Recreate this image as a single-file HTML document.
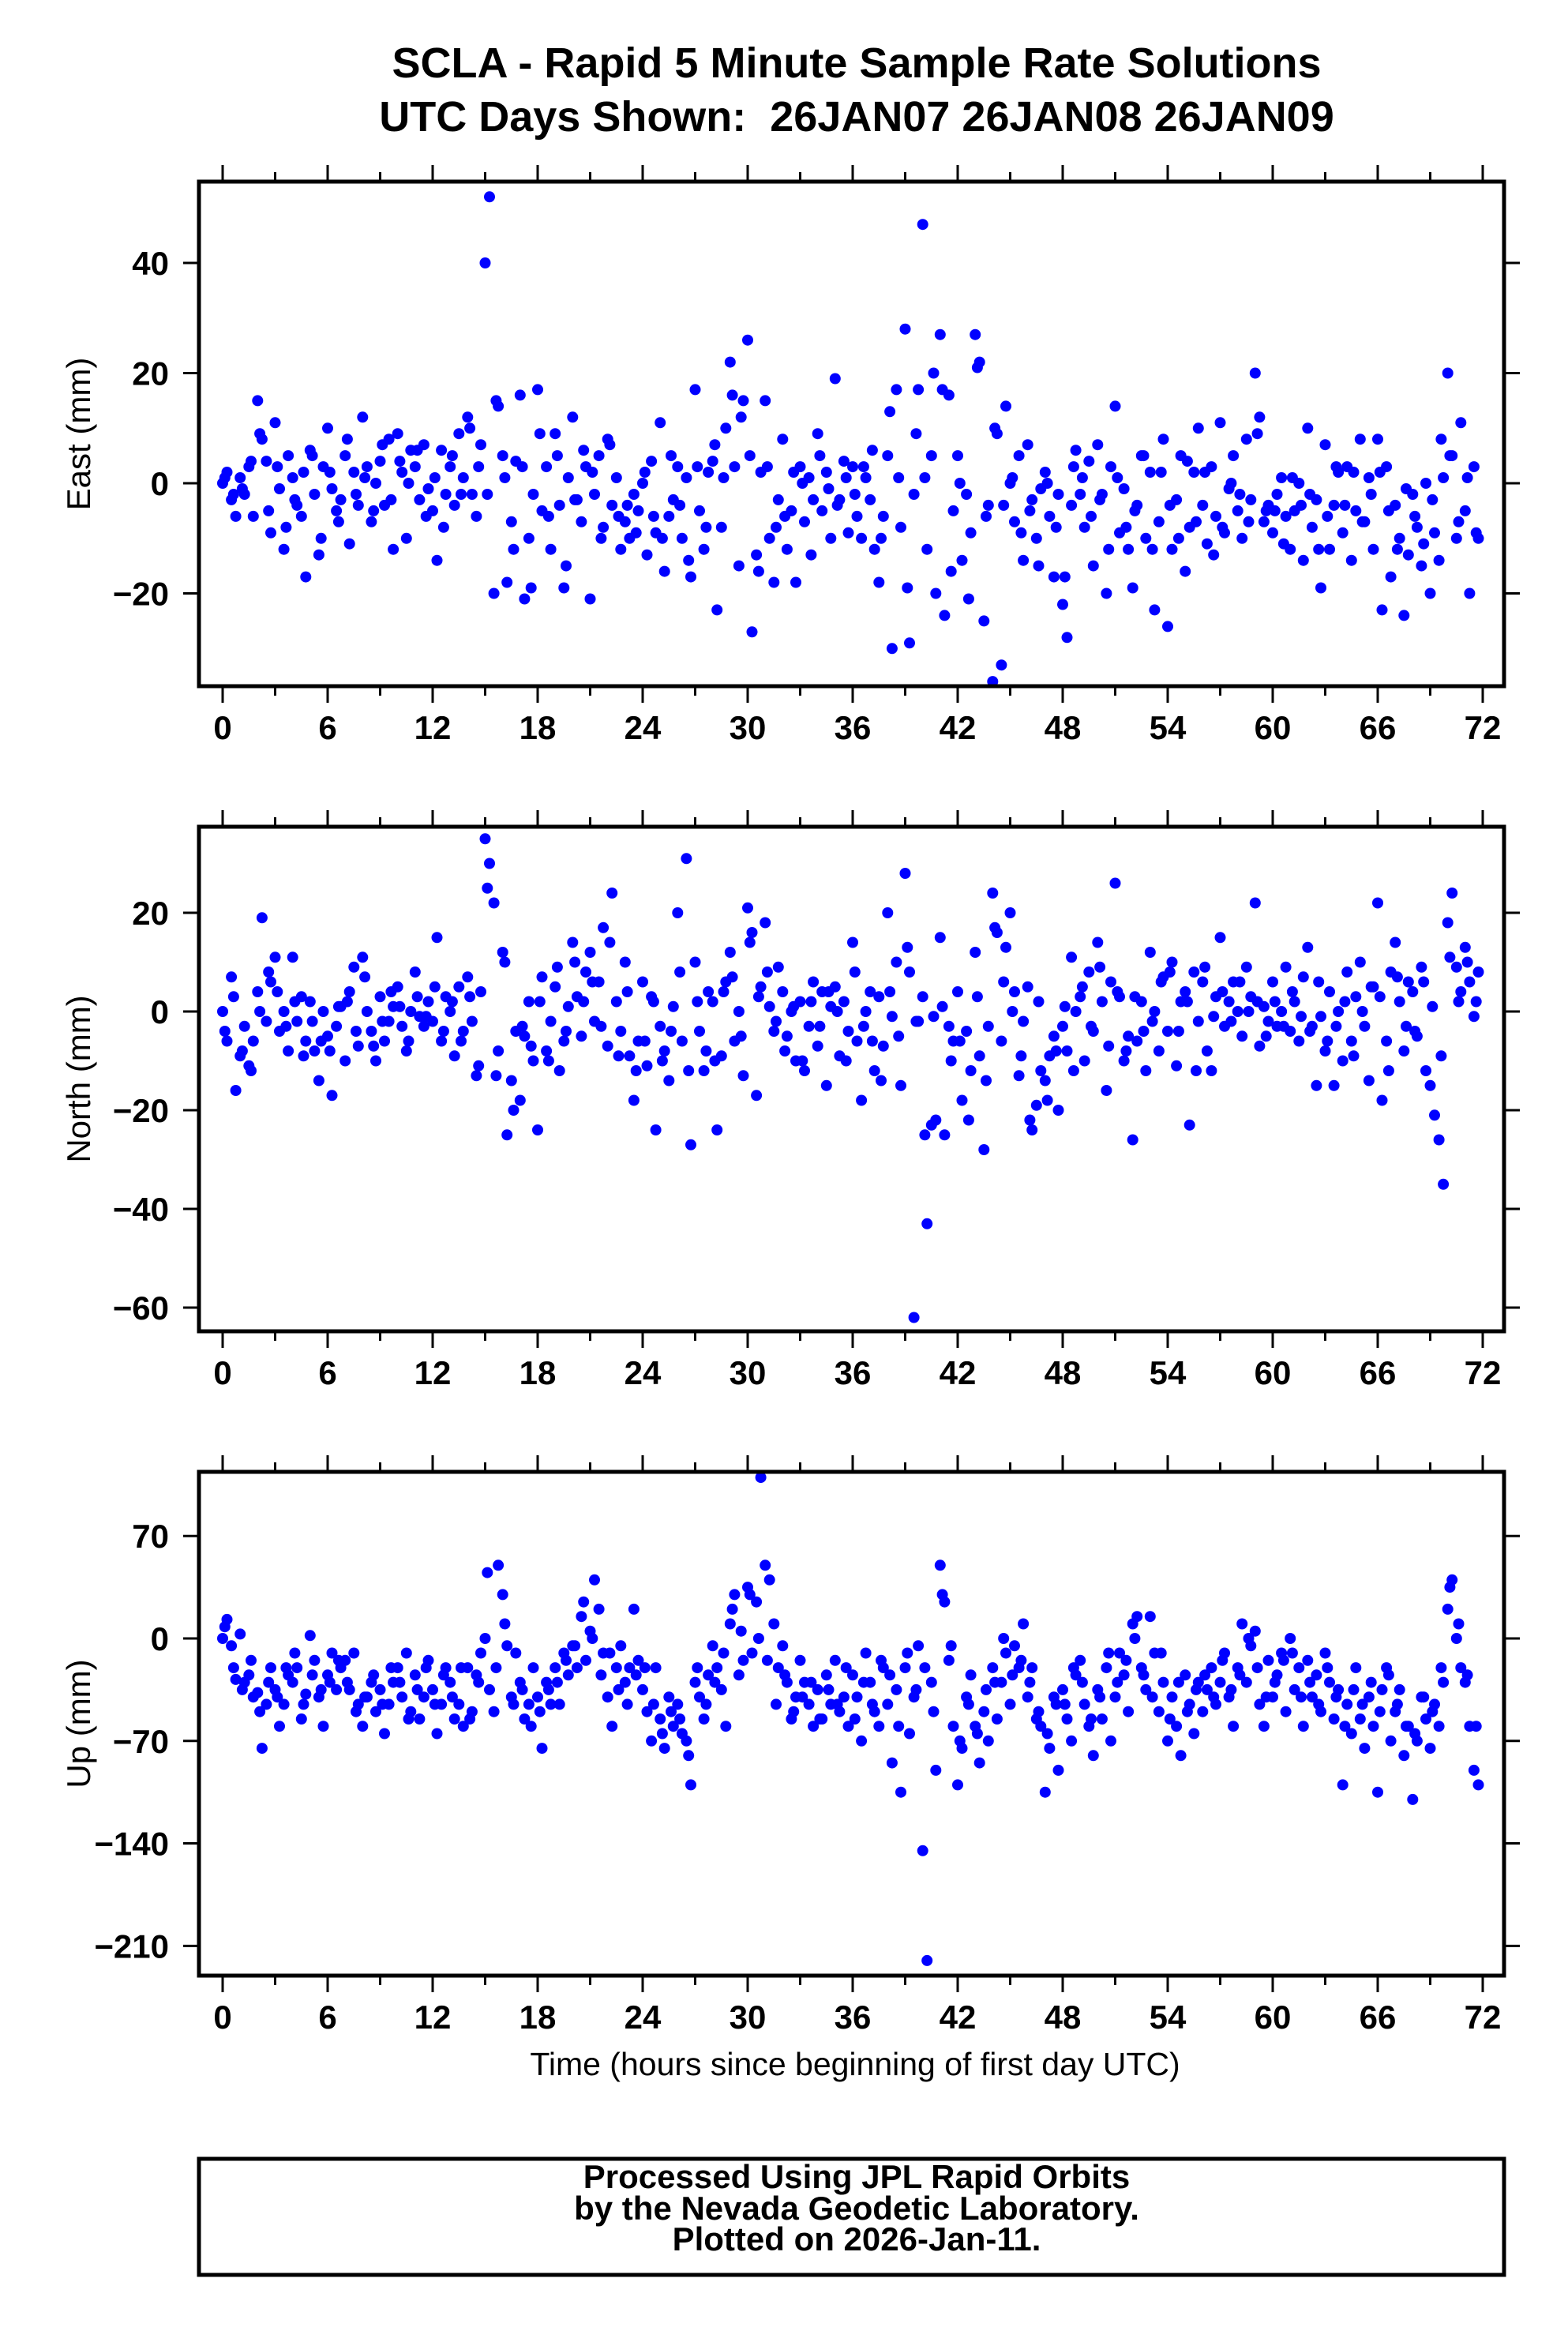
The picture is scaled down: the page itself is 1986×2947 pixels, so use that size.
<!DOCTYPE html>
<html><head><meta charset="utf-8">
<style>
html,body{margin:0;padding:0;background:#fff;}
svg{display:block;font-family:"Liberation Sans",Arial,sans-serif;}
</style></head>
<body>
<svg id="chart" width="1986" height="2947" viewBox="0 0 1986 2947" xmlns="http://www.w3.org/2000/svg">
<rect x="0" y="0" width="1986" height="2947" fill="#fff"/>
<text x="1085" y="98" text-anchor="middle" font-weight="bold" font-size="54">SCLA - Rapid 5 Minute Sample Rate Solutions</text>
<text x="1085" y="166" text-anchor="middle" font-weight="bold" font-size="54" xml:space="preserve">UTC Days Shown:  26JAN07 26JAN08 26JAN09</text>
<text x="1083" y="2628" text-anchor="middle" font-size="41">Time (hours since beginning of first day UTC)</text>
<rect x="252" y="2734" width="1653" height="147" fill="none" stroke="#000" stroke-width="5"/>
<text x="1085" y="2771" text-anchor="middle" font-weight="bold" font-size="42">Processed Using JPL Rapid Orbits</text>
<text x="1085" y="2811" text-anchor="middle" font-weight="bold" font-size="42">by the Nevada Geodetic Laboratory.</text>
<text x="1085" y="2850" text-anchor="middle" font-weight="bold" font-size="42">Plotted on 2026-Jan-11.</text>
</svg>
<script>
const xTickLabels = [0,6,12,18,24,30,36,42,48,54,60,66,72];
const samplesPerHour = 4;
const samplesPerHour2 = 2;
const eastTicks = [40,20,0,-20];
const northTicks = [20,0,-20,-40,-60];
const upTicks = [70,0,-70,-140,-210];
const eastValues = [0,2,-3,-6, 1,-2,3,-6, 15,8,4,-9, 11,-1,-12,5, 1,-4,-6,-17, 6,-2,-13,3, 10,-1,-5,-3, 5,-11,2,-4, 12,3,-7,0, 4,-4,8,-12, 9,2,-10,6, 3,-3,7,-1, -5,-14,6,-2, 3,-4,9,1, 12,-2,-6,7, 40,52,-20,14, 5,-18,-7,4, 16,-21,-10,-2, 17,-5,3,-12, 9,-4,-19,1, 12,-3,-7,3, -21,-2,5,-8, 8,-4,1,-12, -7,-10,-2,-5, 0,-13,4,-9, 11,-16,-6,-3, 3,-10,1,-17, 17,-5,-12,2, 4,-23,-8,10, 22,3,-15,15, 26,-27,-13,2, 15,-10,-18,-3, 8,-12,-5,-18, 3,-7,1,-3, 9,-5,2,-10, 19,-3,4,-9, 3,-6,-10,1, -3,-12,-18,-6, 5,-30,17,-8, 28,-29,-2,17, 47,-12,5,-20, 27,-24,16,-5, 5,-14,-2,-9, 27,22,-25,-4, -36,9,-33,14, 0,-7,5,-14, 7,-3,-10,-1, 2,-6,-17,-2, -22,-28,-4,6, -2,-8,4,-15, 7,-2,-20,3, 14,-9,-1,-12, -19,-4,5,-10, 2,-23,-7,8, -26,-12,-3,5, -16,-8,2,10, -4,-11,3,-6, 11,-9,-1,5, -5,-10,8,-3, 20,12,-7,-4, -9,-2,1,-6, -12,-5,0,-14, 10,-8,-3,-19, 7,-12,-4,2, -9,3,-14,-5, 8,-7,1,-12, 8,-23,3,-17, -4,-10,-24,-13, -2,-8,-15,0, -20,-9,-14,1, 20,5,-10,11, -5,-20,3,-10];
const eastValues2 = [1,-2, -1,4, 9,-5, 3,-8, -3,2, 5,-10, 2,-7, 8,-2, 1,-5, 7,-3, 4,0, 6,-6, 1,-8, 5,-2, 10,3, -2,15, 1,-12, 3,-19, 9,-6, 5,-15, -3,6, 2,-10, 7,-6, -4,-9, 2,-6, -10,5, -4,-14, 3,-8, 7,1, 16,12, 5,-16, 3,-8, -6,2, 0,-13, 5,-1, -4,1, -2,3, 6,-10, 13,1, -19,9, 1,20, 17,-16, 0,-21, 21,-6, 10,-4, 1,-9, -5,-15, 0,-8, -17,3, 1,-6, -3,-12, 1,-8, -5,5, -12,2, -4,-10, 4,-7, 2,-13, -8,0, -2,-7, 9,-5, -5,-11, 1,-4, -2,-12, -6,3, -4,2, -7,-2, 2,-5, -12,-1, -6,-11, -3,8, 5,-7, 1,-9];
const northValues = [0,-6,7,-16, -9,-3,-11,-6, 4,19,-2,6, 11,-4,0,-8, 11,-2,3,-6, 2,-8,-14,0, -5,-17,-3,1, -10,4,9,-7, 11,0,-4,-10, 3,-6,-2,1, 5,-3,-8,0, 8,-1,-3,2, -2,15,-6,3, 0,-9,5,-4, 7,-2,-13,4, 35,30,22,-8, 12,-25,-14,-4, -18,-5,2,-10, -24,7,-8,-2, 5,-12,-6,1, 14,3,-5,8, 12,-2,6,17, -7,24,2,-4, 10,-9,-18,-6, 6,-11,3,-24, -3,-8,-14,1, 20,-6,31,-27, 10,-4,-12,4, 2,-24,-9,6, 12,-6,0,-13, 21,16,-17,5, 18,1,-4,9, 4,-5,0,-10, 2,-12,-3,6, -7,4,-15,1, 5,-9,2,-4, 14,-6,-18,0, 4,-12,3,-7, 20,-1,10,-15, 28,8,-62,-2, 3,-43,-23,-22, 15,-25,-3,-6, 4,-18,-4,-12, 12,-9,-28,-3, 24,16,-6,13, 20,4,-13,-2, 5,-24,-19,-12, -14,-9,-5,-20, -3,-8,11,0, 3,-10,8,-4, 14,2,-16,6, 26,3,-10,-5, -26,-6,2,-12, 12,0,-8,7, -4,10,-11,2, 4,-23,8,-2, 6,-8,-12,3, 15,-3,2,6, 0,-5,9,3, 22,-7,1,-2, 6,-3,0,9, -4,2,-6,7, 13,-3,-15,-1, -8,4,-15,0, -10,8,-6,3, 10,-3,-14,5, 22,-18,-6,8, 14,2,-8,6, 4,-5,9,-12, -15,-21,-26,-35, 18,24,9,4, 13,6,-1,8];
const northValues2 = [-4,3, -8,-12, 0,8, 4,-3, 2,-9, -2,-6, -8,1, 2,-4, 7,-7, -2,4, 1,-6, 3,-1, 5,-4, 2,-6, 3,-11, 25,-13, 10,-20, -3,-7, 2,-10, 9,-4, 10,2, 6,-3, 14,-9, 4,-12, -6,2, -10,-4, 8,-12, 2,-8, -10,4, 7,-5, 14,3, 8,-2, -8,1, -10,2, -3,4, 0,-10, 8,-3, -6,-14, 4,-5, 13,-2, -25,-1, 1,-10, -6,-22, 3,-14, 17,6, 0,-9, -22,2, -18,-8, 1,-12, 5,-3, 9,-7, 4,-8, 3,-4, -2,6, 8,-4, 2,-12, 9,-1, 4,-2, 6,0, 2,-5, 2,-3, 4,-1, -4,6, -6,-3, 2,-9, 0,5, 3,-12, 7,-3, -4,6, 1,-9, 11,2, 10,2];
const upValues = [0,13,-5,-28, 3,-30,-25,-40, -37,-75,-45,-20, -35,-60,-45,-25, -30,-20,-55,-38, 2,-15,-40,-60, -25,-10,-35,-20, -15,-35,-10,-45, -60,-40,-30,-50, -35,-65,-45,-30, -20,-40,-10,-50, -25,-55,-40,-15, -35,-65,-45,-20, -30,-55,-45,-60, -20,-50,-25,-10, 0,-35,-50,50, 30,-5,-40,-10, -30,-55,-45,-20, -40,-75,-30,-45, -20,-45,-10,-25, -5,-20,15,-15, 5,40,20,-10, -40,-60,-20,-5, -30,-20,20,-15, -35,-50,-70,-20, -55,-75,-40,-60, -45,-65,-70,-100, -30,-40,-55,-25, -5,-20,-35,-60, 10,30,-25,-15, 35,-10,25,110, 50,40,10,-20, -5,-30,-55,-40, -15,-30,-45,-60, -35,-55,-25,-45, -15,-50,-40,-60, -25,-40,-70,-10, -30,-50,-60,-20, -45,-85,-35,-105, -20,-65,-40,-5, -145,-220,-30,-90, 50,25,-15,-60, -100,-75,-40,-25, -60,-85,-50,-70, -20,-55,-30,-10, -45,-5,-20,10, -40,-20,-55,-60, -105,-75,-40,-90, -35,-55,-70,-25, -15,-45,-60,-80, -35,-55,-20,-70, -40,-10,-25,-50, 10,15,-20,-35, 15,-10,-50,-30, -70,-40,-60,-80, -25,-45,-65,-30, -50,-35,-20,-45, -30,-10,-40,-60, -20,10,-30,-5, 5,-45,-60,-15, -40,-25,-10,-50, 0,-35,-20,-60, -15,-40,-25,-50, -10,-30,-55,-35, -100,-45,-65,-20, -55,-75,-40,-60, -105,-35,-20,-70, -50,-35,-80,-60, -110,-70,-40,-55, -75,-45,-60,-30, 20,40,0,-20, -30,-60,-90,-100];
const upValues2 = [8,-20, -35,-15, -50,-30, -40,-20, -10,-45, -25,-35, -30,-15, -30,-50, -40,-25, -45,-20, -30,-55, -35,-20, -45,-25, -40,-20, -55,-30, 45,-20, 10,-45, -35,-60, -50,-35, -30,-15, -5,25, 0,-25, -10,-35, -45,-25, -20,-45, -65,-50, -55,-80, -20,-45, -30,-10, 20,5, 30,0, -15,-45, -25,-50, -40,-30, -55,-35, -45,-20, -55,-30, -45,-15, -25,-60, -10,-35, -20,-50, 30,-5, -70,-45, -65,-35, -30,0, -25,-15, -30,-50, -65,-45, -45,-20, -30,-55, -40,-10, -30,-15, 0,-25, -40,-10, -55,-30, -50,-35, -25,-40, -15,-35, -25,0, -20,-40, -30,-15, -10,-40, -30,-45, -20,-40, -60,-35, -45,-30, -50,-25, -45,-60, -65,-40, -50,-20, 35,10, -25,-60];

const NS = 'http://www.w3.org/2000/svg';
const svg = document.getElementById('chart');
const FL = 252, FR = 1905;
function xScale(h){ return 282 + (h - 0) * (1878 - 282) / 72; }
function mk(tag, attrs, parent){
  const e = document.createElementNS(NS, tag);
  for (const k in attrs) e.setAttribute(k, attrs[k]);
  (parent || svg).appendChild(e);
  return e;
}
function fmt(v){ return v < 0 ? '\u2212' + Math.abs(v) : String(v); }

function panel(key, title, top, bottom, yMin, yMax, ticks, values, values2){
  const g = document.createElementNS(NS, 'g');
  
  
  svg.appendChild(g);
  const yScale = v => bottom - (v - yMin) * (bottom - top) / (yMax - yMin);
  const pts = document.createElementNS(NS, 'g');
  
  
  g.appendChild(pts);
  function dot(h, v){
    const c = document.createElementNS(NS, 'circle');
    
    
    c.setAttribute('cx', xScale(h).toFixed(1));
    c.setAttribute('cy', yScale(v).toFixed(1));
    c.setAttribute('r', 7);
    c.setAttribute('fill', '#0000ff');
    pts.appendChild(c);
  }
  for (let i = 0; i < values.length; i++) dot(i / samplesPerHour, values[i]);
  for (let i = 0; i < values2.length; i++) dot(i / samplesPerHour2 + 0.125, values2[i]);
  const fr = document.createElementNS(NS, 'rect');
  
  
  fr.setAttribute('x', FL); fr.setAttribute('y', top);
  fr.setAttribute('width', FR - FL); fr.setAttribute('height', bottom - top);
  fr.setAttribute('fill', 'none'); fr.setAttribute('stroke', '#000'); fr.setAttribute('stroke-width', 5);
  g.appendChild(fr);
  for (let h = 0; h <= 72; h += 3){
    const x = xScale(h), major = h % 6 === 0;
    const len = major ? 19 : 10;
    mk('line', {x1:x, x2:x, y1:bottom+2, y2:bottom+2+len, stroke:'#000', 'stroke-width':3}, g);
    mk('line', {x1:x, x2:x, y1:top-2, y2:top-2-len, stroke:'#000', 'stroke-width':3}, g);
  }
  const xl = document.createElementNS(NS, 'g');
  
  
  g.appendChild(xl);
  xTickLabels.forEach(h => {
    const t = mk('text', {x:xScale(h), y:bottom+67, 'text-anchor':'middle', 'font-weight':'bold', 'font-size':42}, xl);
    t.textContent = h;
  });
  const yl = document.createElementNS(NS, 'g');
  
  
  g.appendChild(yl);
  ticks.forEach(v => {
    const y = yScale(v);
    mk('line', {x1:FL-2, x2:FL-20, y1:y, y2:y, stroke:'#000', 'stroke-width':3}, g);
    mk('line', {x1:FR+2, x2:FR+20, y1:y, y2:y, stroke:'#000', 'stroke-width':3}, g);
    const t = mk('text', {x:214, y:y+15, 'text-anchor':'end', 'font-weight':'bold', 'font-size':42}, yl);
    t.textContent = fmt(v);
  });
  const cy = (top + bottom) / 2;
  const yt = mk('text', {x:0, y:0, transform:'translate(114,' + cy + ') rotate(-90)', 'text-anchor':'middle', 'font-size':42}, g);
  
  
  yt.textContent = title;
}
panel('east', 'East (mm)', 230, 869, (612-869)/6.975, (612-230)/6.975, eastTicks, eastValues, eastValues2);
panel('north', 'North (mm)', 1047, 1686, (1281-1686)/6.25, (1281-1047)/6.25, northTicks, northValues, northValues2);
panel('up', 'Up (mm)', 1864, 2502, (2075-2502)/1.854, (2075-1864)/1.854, upTicks, upValues, upValues2);
</script>
</body></html>
